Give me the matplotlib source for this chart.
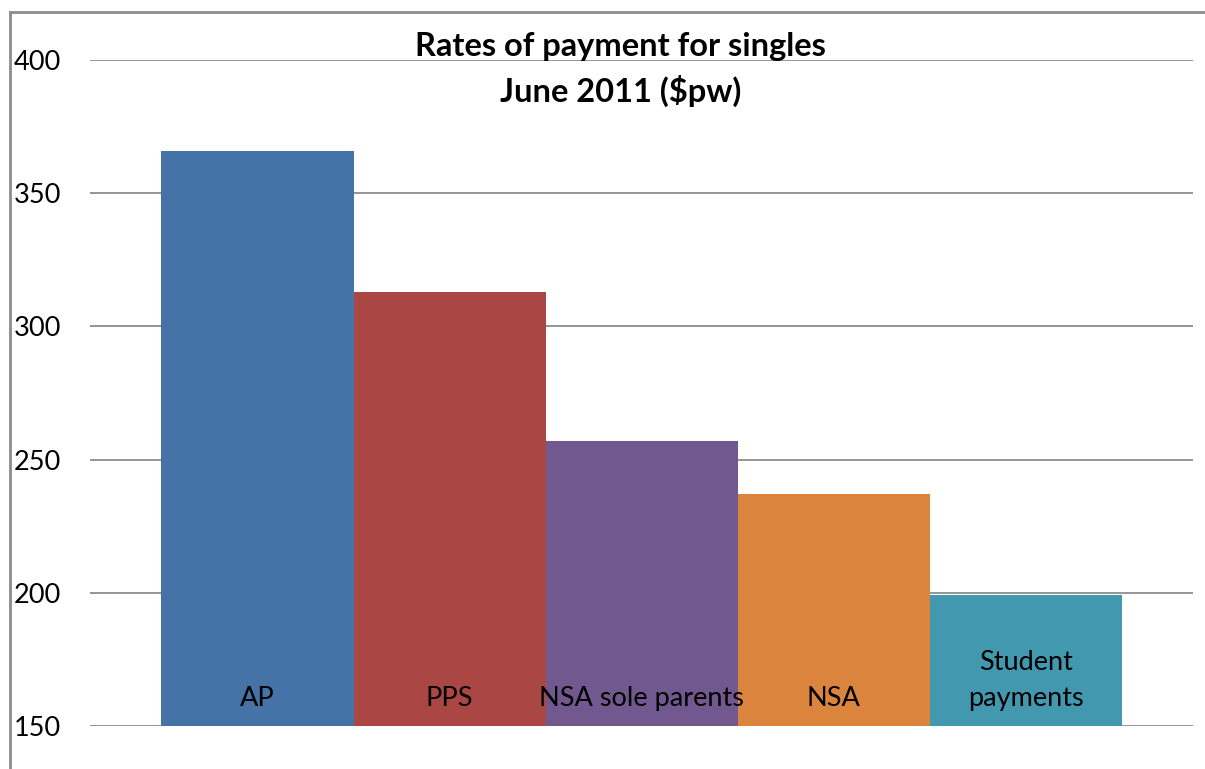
import matplotlib.pyplot as plt
from matplotlib.lines import Line2D

# data
categories = ["AP", "PPS", "NSA sole parents", "NSA", "Student\npayments"]
rates = [366, 313, 257, 237, 199]
colors = ["#4572A7", "#AA4643", "#71588F", "#DB843D", "#4198AF"]

plt.rcParams['font.family'] = ['Lato', 'DejaVu Sans']

fig = plt.figure(figsize=(12.05, 7.69), dpi=100)
ax = fig.add_axes([0.0747, 0.0559, 0.9153, 0.8661])

x = range(len(categories))
ax.bar(x, [r - 150 for r in rates], bottom=150, width=1.0, color=colors, zorder=2)

# category labels sit inside the bars near the base
for i, lab in enumerate(categories):
    ax.text(i, 155.5, lab, ha='center', va='bottom', fontsize=19.5, color='black',
            linespacing=1.55, zorder=3)

ax.set_ylim(150, 400)
ax.set_xlim(-0.872, 4.87)
ax.set_yticks([150, 200, 250, 300, 350, 400])
ax.yaxis.grid(True, color='#8c8c8c', linewidth=1.3, zorder=1)
ax.set_xticks([])
ax.tick_params(axis='y', length=0, pad=21, labelsize=19.5)
for s in ax.spines.values():
    s.set_visible(False)

fig.text(0.515, 0.91, "Rates of payment for singles\nJune 2011 ($pw)", ha='center',
         va='center', fontsize=23.5, fontweight='bold', linespacing=1.5)

# outer chart border (only left and top visible in the crop)
fig.add_artist(Line2D([10 / 1205, 10 / 1205], [0, 1 - 12 / 769], color='#8c8c8c', linewidth=2))
fig.add_artist(Line2D([10 / 1205, 1], [1 - 12 / 769, 1 - 12 / 769], color='#8c8c8c', linewidth=2))

fig.savefig("out.png", dpi=100)
